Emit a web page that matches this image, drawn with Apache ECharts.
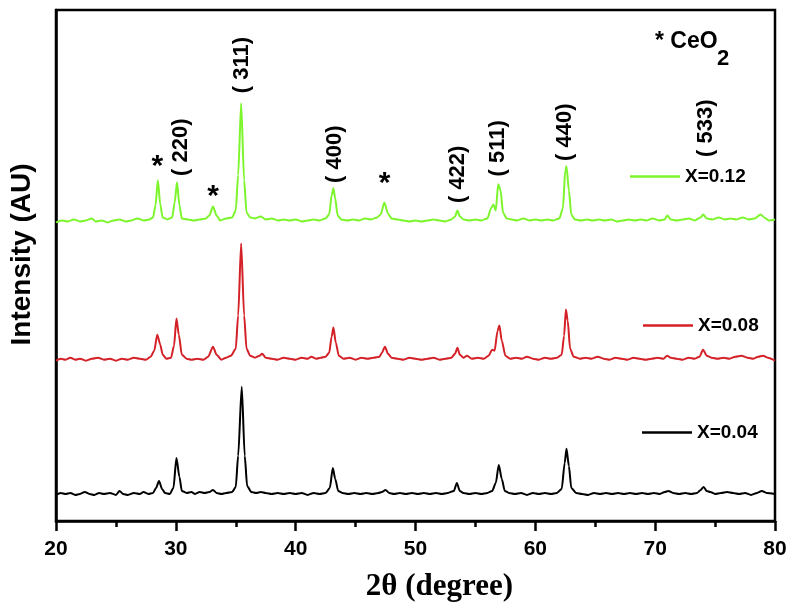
<!DOCTYPE html>
<html><head><meta charset="utf-8">
<script src="https://cdn.jsdelivr.net/npm/echarts@6/dist/echarts.min.js"></script>
<style>html,body{margin:0;padding:0;background:#fff}#c{width:791px;height:609px}</style>
</head><body><div id="c"></div>
<script>
// ---- data (2θ in degrees, intensity in arbitrary units, stacked with offsets) ----
const seriesNames = ['X=0.12', 'X=0.08', 'X=0.04'];
const xTicks = [20, 30, 40, 50, 60, 70, 80];

const green012 = [[20,298],[20.5,300],[21,299],[21.5,301],[22,299],[22.5,300],[23,302],[23.3,299],[23.8,300],[24.3,298],[24.8,300],[25.3,301],[25.8,299],[26.3,300],[26.8,302],[27.3,300],[27.8,301],[28.1,303],[28.3,315],[28.5,340],[28.7,316],[28.9,303],[29.3,301],[29.7,303],[29.9,318],[30.1,338],[30.3,315],[30.5,302],[31,301],[31.5,300],[32,301],[32.5,302],[32.8,305],[33.1,314],[33.4,305],[33.7,300],[34.2,302],[34.7,303],[35.0,310],[35.2,345],[35.45,417],[35.7,340],[35.9,308],[36.2,303],[36.6,302],[37.1,304],[37.5,301],[38,302],[38.5,300],[39,301],[39.5,300],[40,301],[40.5,299],[41,300],[41.5,301],[42,300],[42.5,302],[42.8,306],[43.0,325],[43.15,332],[43.3,322],[43.5,305],[43.8,301],[44.3,300],[44.8,301],[45.3,300],[45.8,302],[46.3,301],[46.8,303],[47.1,306],[47.4,318],[47.7,307],[48,302],[48.5,301],[49,300],[49.5,299],[50,300],[50.5,299],[51,300],[51.5,301],[52,300],[52.5,299],[53,301],[53.3,304],[53.5,310],[53.7,304],[54,301],[54.5,300],[55,301],[55.5,300],[56,302],[56.3,312],[56.5,316],[56.7,310],[56.9,336],[57.1,330],[57.3,308],[57.6,302],[58,301],[58.5,300],[59,302],[59.5,300],[60,301],[60.5,300],[61,301],[61.5,300],[62,302],[62.3,312],[62.5,350],[62.6,354],[62.8,330],[63.0,306],[63.3,301],[63.8,300],[64.3,301],[64.8,300],[65.3,301],[65.8,300],[66.3,301],[66.8,299],[67.3,300],[67.8,301],[68.3,300],[68.8,301],[69.3,300],[69.8,302],[70.3,300],[70.8,301],[71,305],[71.3,301],[71.8,300],[72.3,301],[72.8,302],[73.3,300],[73.8,303],[74,306],[74.3,302],[74.8,301],[75.3,303],[75.8,301],[76.3,302],[76.8,301],[77.3,303],[77.8,301],[78.3,302],[78.8,306],[79.1,303],[79.5,300],[80,301]];

const red008 = [[20,160],[20.4,162],[20.8,161],[21.2,163],[21.6,161],[22,162],[22.5,160],[23,162],[23.5,163],[24,161],[24.5,162],[25,160],[25.5,162],[26,161],[26.5,163],[27,162],[27.5,161],[27.9,164],[28.2,170],[28.45,186],[28.7,176],[28.9,166],[29.2,162],[29.6,163],[29.85,175],[30.05,202],[30.25,186],[30.5,166],[30.9,162],[31.3,161],[31.8,162],[32.3,161],[32.7,164],[33.1,174],[33.4,166],[33.8,161],[34.2,163],[34.6,165],[35.0,172],[35.2,205],[35.45,277],[35.7,205],[35.9,172],[36.2,165],[36.6,163],[37.0,165],[37.2,167],[37.5,163],[38,162],[38.5,161],[39,163],[39.5,162],[40,161],[40.5,163],[41,162],[41.3,164],[41.7,162],[42.1,163],[42.5,164],[42.8,168],[43.0,184],[43.15,193],[43.35,178],[43.6,165],[44,162],[44.5,163],[45,161],[45.5,163],[46,162],[46.5,163],[47,164],[47.2,168],[47.45,174],[47.7,167],[48,163],[48.5,162],[49,161],[49.5,163],[50,162],[50.5,161],[51,162],[51.5,163],[52,161],[52.5,162],[53,163],[53.3,167],[53.5,173],[53.7,166],[54,163],[54.3,165],[54.7,162],[55.2,163],[55.7,162],[56.1,165],[56.4,171],[56.6,170],[56.85,190],[57.0,195],[57.2,180],[57.5,165],[57.9,162],[58.4,163],[58.9,162],[59.3,164],[59.8,162],[60.3,161],[60.8,163],[61.3,162],[61.8,163],[62.2,166],[62.4,185],[62.55,211],[62.7,200],[62.9,172],[63.2,164],[63.7,162],[64.2,163],[64.7,162],[65.2,164],[65.7,162],[66.2,161],[66.7,163],[67.2,162],[67.7,161],[68.2,163],[68.7,162],[69.2,161],[69.7,162],[70.2,163],[70.7,162],[71,165],[71.3,163],[71.8,162],[72.3,161],[72.8,163],[73.3,162],[73.7,164],[74,171],[74.3,165],[74.7,163],[75.2,162],[75.7,163],[76.2,162],[76.7,164],[77.2,165],[77.7,163],[78.2,162],[78.6,164],[79,165],[79.4,163],[80,160]];

const black004 = [[20,26],[20.4,28],[20.8,27],[21.2,28],[21.6,26],[22,27],[22.4,29],[22.8,27],[23.2,26],[23.6,28],[24,27],[24.5,28],[25,26],[25.3,30],[25.6,27],[26,26],[26.5,28],[27,27],[27.3,29],[27.7,27],[28.1,28],[28.35,33],[28.6,40],[28.85,32],[29.1,28],[29.5,27],[29.8,33],[30.05,63],[30.3,44],[30.5,30],[30.9,28],[31.3,29],[31.6,27],[32,29],[32.4,28],[32.8,29],[33.1,31],[33.4,28],[33.8,27],[34.2,28],[34.7,29],[35.0,34],[35.2,65],[35.5,134],[35.75,65],[35.95,35],[36.3,29],[36.7,28],[37.1,29],[37.5,28],[38,27],[38.5,28],[39,27],[39.5,28],[40,27],[40.5,28],[41,26],[41.5,28],[42,27],[42.5,28],[42.85,33],[43.1,53],[43.3,42],[43.55,30],[43.9,28],[44.4,27],[44.9,28],[45.4,27],[45.9,28],[46.4,27],[46.9,28],[47.2,29],[47.5,31],[47.8,28],[48.2,27],[48.7,28],[49.2,27],[49.7,28],[50.2,27],[50.7,28],[51.2,27],[51.7,28],[52.2,27],[52.7,28],[53.2,30],[53.45,38],[53.7,30],[54,28],[54.5,27],[55,28],[55.5,27],[56,28],[56.4,30],[56.7,38],[56.95,56],[57.2,42],[57.45,30],[57.8,28],[58.3,27],[58.8,28],[59.3,26],[59.8,28],[60.3,27],[60.8,28],[61.3,27],[61.8,28],[62.2,32],[62.45,58],[62.6,72],[62.8,55],[63.0,33],[63.4,28],[63.9,27],[64.4,26],[64.9,28],[65.4,27],[65.9,28],[66.4,27],[66.9,28],[67.4,27],[67.9,28],[68.4,27],[68.9,28],[69.4,27],[69.9,28],[70.4,27],[70.8,29],[71.1,30],[71.5,28],[72,27],[72.5,28],[73,27],[73.5,28],[73.8,31],[74.05,34],[74.3,30],[74.6,29],[75,27],[75.5,28],[76,29],[76.5,28],[77,27],[77.5,28],[78,26],[78.5,28],[78.9,30],[79.3,28],[80,27]];

// peak annotations: [label, 2θ, height]
const hklLabels = [['( 220)', 30.4, 373], ['( 311)', 35.55, 455], ['( 400)', 43.27, 366], ['( 422)', 53.5, 346], ['( 511)', 56.9, 372], ['( 440)', 62.48, 388], ['( 533)', 74.2, 392]];
const ceo2Stars = [['*', 28.45, 354], ['*', 33.1, 324], ['*', 47.43, 337]];

const colors = ['#7CF52C', '#D42027', '#000000'];

const chart = echarts.init(document.getElementById('c'), null, {renderer: 'canvas'});
const annData = hklLabels.map(a => ({coord: [a[1], a[2]], value: a[0],
  label: {formatter: a[0], rotate: 90, fontSize: 22}}))
  .concat(ceo2Stars.map(a => ({coord: [a[1], a[2]], value: a[0],
  label: {formatter: a[0], rotate: 0, fontSize: 30}})));

const seriesData = [green012, red008, black004];
const option = {
  animation: false,
  backgroundColor: '#fff',
  grid: {left: 53, right: 16, top: 10, bottom: 88, show: true, borderColor: '#000', borderWidth: 2.5, backgroundColor: 'transparent'},
  xAxis: {
    type: 'value', min: 20, max: 80, interval: 10,
    name: '2θ (degree)', nameLocation: 'middle', nameGap: 50,
    nameTextStyle: {fontFamily: 'Liberation Serif, Times New Roman, serif', fontWeight: 'bold', fontSize: 31, color: '#000', padding: [0, 0, 0, 48]},
    axisLine: {show: true, onZero: false, lineStyle: {color: '#000', width: 2.5}},
    axisTick: {show: true, inside: false, length: 10, lineStyle: {color: '#000', width: 2.5}},
    minorTick: {show: true, splitNumber: 2, length: 6, lineStyle: {color: '#000', width: 2.5}},
    axisLabel: {margin: 18, color: '#000', fontFamily: 'Liberation Sans, Arial, sans-serif', fontWeight: 'bold', fontSize: 21,
      formatter: v => xTicks.indexOf(v) >= 0 ? String(v) : ''},
    splitLine: {show: false}
  },
  yAxis: {
    type: 'value', min: 0, max: 510,
    name: 'Intensity (AU)', nameLocation: 'middle', nameGap: 20,
    nameTextStyle: {fontFamily: 'Liberation Sans, Arial, sans-serif', fontWeight: 'bold', fontSize: 28, color: '#000', padding: [0, 0, 0, 22]},
    axisLine: {show: true, onZero: false, lineStyle: {color: '#000', width: 2.5}},
    axisTick: {show: false}, axisLabel: {show: false}, splitLine: {show: false}
  },
  legend: [
    {data: [seriesNames[0]], left: 630, top: 167},
    {data: [seriesNames[1]], left: 643, top: 316},
    {data: [seriesNames[2]], left: 642, top: 423}
  ].map(l => Object.assign(l, {icon: 'rect', itemWidth: 50, itemHeight: 2.5, itemGap: 0, padding: 0,
      textStyle: {fontFamily: 'Liberation Sans, Arial, sans-serif', fontWeight: 'bold', fontSize: 19, color: '#000'}})),
  graphic: [
    {type: 'text', left: 655, top: 30, style: {text: '* CeO', fontFamily: 'Liberation Sans, Arial, sans-serif', fontWeight: 'bold', fontSize: 23, fill: '#000'}},
    {type: 'text', left: 717, top: 48, style: {text: '2', fontFamily: 'Liberation Sans, Arial, sans-serif', fontWeight: 'bold', fontSize: 22, fill: '#000'}}
  ],
  series: seriesData.map((d, i) => ({
    name: seriesNames[i], type: 'line', data: d, showSymbol: false, symbol: 'none',
    smooth: 0.25, smoothMonotone: 'x',
    lineStyle: {color: colors[i], width: 2},
    itemStyle: {color: colors[i]},
    z: 3 - i,
    markPoint: i === 0 ? {
      symbol: 'circle', symbolSize: 1, itemStyle: {color: 'rgba(0,0,0,0)'},
      label: {show: true, position: 'inside', color: '#000', fontWeight: 'bold', fontFamily: 'Liberation Sans, Arial, sans-serif'},
      data: annData
    } : undefined
  }))
};
chart.setOption(option);
</script></body></html>
